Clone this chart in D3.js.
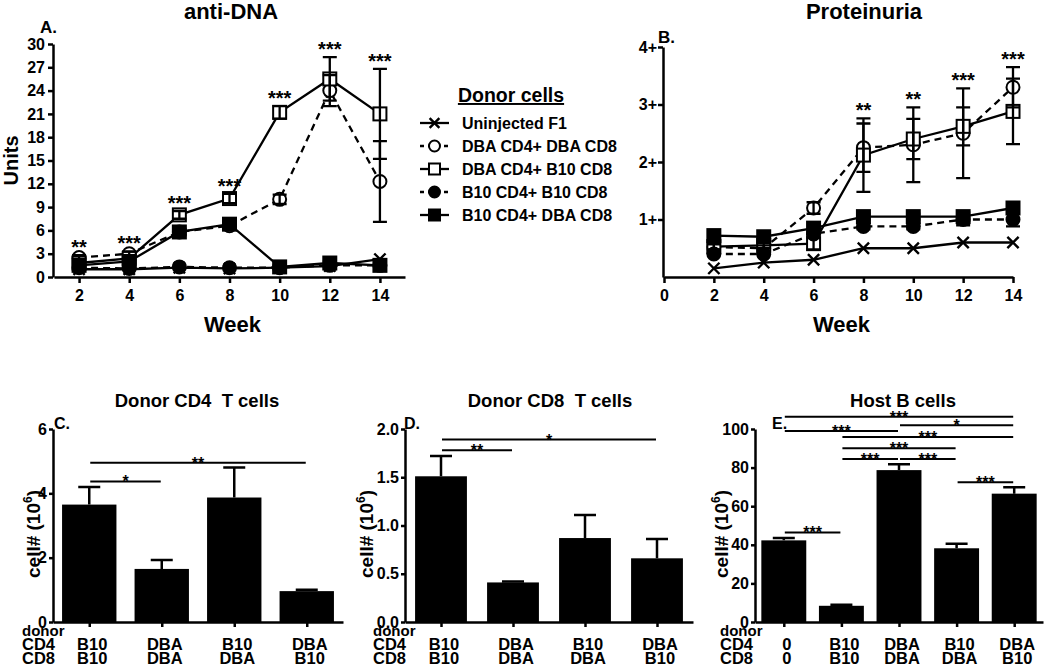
<!DOCTYPE html>
<html>
<head>
<meta charset="utf-8">
<script src="https://cdn.jsdelivr.net/npm/d3@7"></script>
<style>
  body { margin: 0; background: #fff; }
  svg { display: block; }
  text { white-space: pre; }
</style>
</head>
<body>
<div id="chart"></div>
<script>
// ---- data ----
const weeks = [2, 4, 6, 8, 10, 12, 14];
const groups = ["Uninjected F1", "DBA CD4+ DBA CD8", "DBA CD4+ B10 CD8", "B10 CD4+ B10 CD8", "B10 CD4+ DBA CD8"];

// A. anti-DNA (units)
const dnaF1 = [1.0, 1.0, 1.2, 1.1, 1.2, 1.4, 2.3];
const dnaDD = [2.5, 3.0, 5.8, 6.6, 10.0, 24.0, 12.3];
const dnaDB = [1.8, 2.4, 8.0, 10.1, 21.2, 25.5, 21.0];
const dnaBB = [1.2, 1.1, 1.3, 1.2, 1.2, 1.5, 1.5];
const dnaBD = [1.5, 2.0, 5.8, 6.8, 1.3, 1.8, 1.5];
const dnaErrF1 = [0, 0, 0, 0, 0, 0, 0];
const dnaErrDD = [0.3, 0.3, 0.4, 0.5, 0.6, 2.0, 5.2];
const dnaErrDB = [0.2, 0.3, 0.5, 0.6, 0.8, 2.8, 5.8];
const dnaErrBB = [0, 0, 0, 0, 0, 0, 0];
const dnaErrBD = [0.2, 0.2, 0.4, 0.5, 0.2, 0.2, 0.2];
const dnaStars = ["**", "***", "***", "***", "***", "***", "***"];

// B. proteinuria (score)
const protF1 = [0.15, 0.25, 0.3, 0.5, 0.5, 0.6, 0.6];
const protDD = [0.52, 0.5, 1.2, 2.25, 2.3, 2.5, 3.3];
const protDB = [0.53, 0.55, 0.58, 2.12, 2.4, 2.62, 2.88];
const protBB = [0.4, 0.4, 0.75, 0.88, 0.88, 1.0, 1.0];
const protBD = [0.72, 0.7, 0.85, 1.05, 1.05, 1.05, 1.2];
const protErrF1 = [0, 0, 0, 0, 0, 0, 0];
const protErrDD = [0.05, 0.05, 0.1, 0.42, 0.65, 0.78, 0.35];
const protErrDB = [0.05, 0.05, 0.1, 0.64, 0.35, 0.33, 0.57];
const protErrBB = [0, 0, 0, 0.05, 0.05, 0.1, 0.12];
const protErrBD = [0, 0, 0, 0.05, 0.05, 0.08, 0.1];
const protStars = ["", "", "", "**", "**", "***", "***"];
const protTicks = [1, 2, 3, 4];

// C-E. cell numbers (10^6)
const tCD4 = ["B10", "DBA", "B10", "DBA"];
const tCD8 = ["B10", "DBA", "DBA", "B10"];
const cd4Cells = [3.65, 1.65, 3.87, 0.96];
const cd4Err = [0.55, 0.28, 0.93, 0.04];
const cd4Sig = [[0, 1, 4.37, "*"], [0, 3, 4.95, "**"]];
const cd8Cells = [1.51, 0.41, 0.87, 0.66];
const cd8Err = [0.21, 0.01, 0.24, 0.2];
const cd8Sig = [[0, 1, 1.78, "**"], [0, 3, 1.89, "*"]];
const hostCD4 = ["0", "B10", "DBA", "B10", "DBA"];
const hostCD8 = ["0", "B10", "DBA", "DBA", "B10"];
const bCells = [42.3, 8.4, 78.7, 38.2, 66.5];
const bErr = [1.2, 0.6, 3.0, 2.3, 3.3];
const bSig = [
  [0, 4, 106.3, "***"], [2, 4, 102, "*"], [0, 2, 99, "***"], [1, 4, 95.8, "***"],
  [1, 3, 90, "***"], [1, 2, 84.4, "***"], [2, 3, 84.4, "***"], [3, 4, 72.4, "***"],
  [0, 1, 46.4, "***"]
];

// ---- styles ----
const FONT = '"Liberation Sans", Arial, sans-serif';
const markers = ["x", "openCircle", "openSquare", "circle", "square"];
const dashes = [null, "7,5", null, "7,5", null];

const svg = d3.select("#chart")
  .append("svg")
    .attr("width", 1050)
    .attr("height", 667)
    .attr("font-family", FONT)
    .attr("font-weight", "bold");

function styleAxis(g, size) {
  g.attr("font-family", FONT).attr("font-size", size).attr("font-weight", "bold");
  g.selectAll("path, line").attr("stroke", "#000").attr("stroke-width", 2.5);
  g.selectAll("text").attr("fill", "#000");
}

function drawMarker(g, type, cx, cy, s) {
  const h = s / 2;
  if (type === "x") {
    const k = h * 0.75;
    g.append("path")
      .attr("d", `M${cx - k},${cy - k}L${cx + k},${cy + k}M${cx - k},${cy + k}L${cx + k},${cy - k}`)
      .attr("stroke", "#000").attr("stroke-width", 2.4).attr("fill", "none");
  } else if (type === "openCircle" || type === "circle") {
    g.append("circle")
      .attr("cx", cx).attr("cy", cy).attr("r", h - 1)
      .attr("fill", type === "circle" ? "#000" : "#fff")
      .attr("stroke", "#000").attr("stroke-width", 2);
  } else {
    g.append("rect")
      .attr("x", cx - h + 1).attr("y", cy - h + 1)
      .attr("width", s - 2).attr("height", s - 2)
      .attr("fill", type === "square" ? "#000" : "#fff")
      .attr("stroke", "#000").attr("stroke-width", 2);
  }
}

function lineChart(o) {
  const g = svg.append("g");
  const x = o.x, y = o.y;

  g.append("g")
    .attr("transform", `translate(${x.range()[0] - 1},0)`)
    .call(d3.axisLeft(y).tickValues(o.yTicks).tickFormat(o.yFormat).tickSize(5).tickPadding(o.yPad).tickSizeOuter(0))
    .call(ax => styleAxis(ax, 16));

  g.append("g")
    .attr("transform", `translate(0,${y.range()[0]})`)
    .call(d3.axisBottom(x).tickValues(o.xTicks).tickSize(6).tickPadding(7).tickSizeOuter(0))
    .call(ax => styleAxis(ax, 16));

  const line = d3.line()
    .x((d, i) => x(weeks[i]))
    .y(d => y(d));

  o.series.forEach((s, k) => {
    g.append("path")
      .datum(s)
      .attr("d", line)
      .attr("fill", "none")
      .attr("stroke", "#000")
      .attr("stroke-width", 2.3)
      .attr("stroke-dasharray", dashes[k]);
  });

  o.series.forEach((s, k) => {
    s.forEach((v, i) => drawMarker(g, markers[k], x(weeks[i]), y(v), 15));
  });

  // error bars on top, as in the original
  o.series.forEach((s, k) => {
    s.forEach((v, i) => {
      const e = o.errs[k][i];
      if (!e) return;
      const cx = x(weeks[i]);
      const path = d3.path();
      path.moveTo(cx, y(v - e)); path.lineTo(cx, y(v + e));
      path.moveTo(cx - 7, y(v + e)); path.lineTo(cx + 7, y(v + e));
      path.moveTo(cx - 7, y(v - e)); path.lineTo(cx + 7, y(v - e));
      g.append("path").attr("d", path.toString())
        .attr("stroke", "#000").attr("stroke-width", 2.3).attr("fill", "none");
    });
  });

  o.stars.forEach((lab, i) => {
    if (!lab) return;
    const top = d3.max(o.series, (s, k) => s[i] + o.errs[k][i]);
    g.append("text")
      .attr("x", x(weeks[i]))
      .attr("y", y(top) - 1)
      .attr("text-anchor", "middle")
      .attr("font-size", 20)
      .text(lab);
  });

  g.append("text")
    .attr("x", o.titleX).attr("y", 19)
    .attr("text-anchor", "middle").attr("font-size", 22)
    .text(o.title);

  g.append("text")
    .attr("x", o.letterX).attr("y", o.letterY)
    .attr("font-size", 17)
    .text(o.letter);

  g.append("text")
    .attr("x", (x.range()[0] + x.range()[1]) / 2 + 3).attr("y", 332)
    .attr("text-anchor", "middle").attr("font-size", 22)
    .text("Week");

  if (o.yLabel) {
    g.append("text")
      .attr("transform", `translate(18,${(y.range()[0] + y.range()[1]) / 2})rotate(-90)`)
      .attr("text-anchor", "middle").attr("font-size", 20)
      .text(o.yLabel);
  }
}

lineChart({
  x: d3.scaleLinear().domain([1, 15]).range([54, 405]),
  y: d3.scaleLinear().domain([0, 30]).range([277, 44]),
  yTicks: d3.range(0, 31, 3), yFormat: d => d, yPad: 3,
  xTicks: weeks,
  series: [dnaF1, dnaDD, dnaDB, dnaBB, dnaBD],
  errs: [dnaErrF1, dnaErrDD, dnaErrDB, dnaErrBB, dnaErrBD],
  stars: dnaStars,
  title: "anti-DNA", titleX: 231,
  letter: "A.", letterX: 40, letterY: 33,
  yLabel: "Units"
});

lineChart({
  x: d3.scaleLinear().domain([0, 14]).range([664, 1013]),
  y: d3.scaleLinear().domain([0, 4]).range([277, 47]),
  yTicks: protTicks, yFormat: d => d + "+", yPad: 1,
  xTicks: d3.range(0, 15, 2),
  series: [protF1, protDD, protDB, protBB, protBD],
  errs: [protErrF1, protErrDD, protErrDB, protErrBB, protErrBD],
  stars: protStars,
  title: "Proteinuria", titleX: 864,
  letter: "B.", letterX: 658, letterY: 43
});

// legend
const leg = svg.append("g");
leg.append("text")
  .attr("x", 511).attr("y", 102)
  .attr("text-anchor", "middle").attr("font-size", 19.5)
  .attr("text-decoration", "underline")
  .text("Donor cells");
groups.forEach((name, k) => {
  const ly = 123 + k * 23;
  leg.append("line")
    .attr("x1", 420).attr("x2", 449).attr("y1", ly).attr("y2", ly)
    .attr("stroke", "#000").attr("stroke-width", 2.3)
    .attr("stroke-dasharray", dashes[k] ? "4,4" : null);
  drawMarker(leg, markers[k], 434.5, ly, 13);
  leg.append("text")
    .attr("x", 462).attr("y", ly + 5.5)
    .attr("font-size", 16)
    .text(name);
});

function barChart(o) {
  const g = svg.append("g");
  const x = d3.scaleBand().domain(d3.range(o.values.length)).range(o.xRange).paddingInner(o.pad).paddingOuter(o.pad / 2);
  const y = d3.scaleLinear().domain([0, o.yMax]).range([622, 429]);
  const cx = i => x(i) + x.bandwidth() / 2;

  g.selectAll(".bar")
    .data(o.values)
    .enter()
    .append("rect")
      .attr("class", "bar")
      .attr("x", (d, i) => x(i))
      .attr("y", d => y(d))
      .attr("width", x.bandwidth())
      .attr("height", d => y(0) - y(d))
      .attr("fill", "#000");

  o.values.forEach((v, i) => {
    const p = d3.path();
    p.moveTo(cx(i), y(v)); p.lineTo(cx(i), y(v + o.errs[i]));
    p.moveTo(cx(i) - 11, y(v + o.errs[i])); p.lineTo(cx(i) + 11, y(v + o.errs[i]));
    g.append("path").attr("d", p.toString())
      .attr("stroke", "#000").attr("stroke-width", 2.5).attr("fill", "none");
  });

  g.append("g")
    .attr("transform", `translate(${o.xRange[0]},0)`)
    .call(d3.axisLeft(y).tickValues(o.yTicks).tickFormat(o.yFormat).tickSize(4).tickPadding(2).tickSizeOuter(0))
    .call(ax => styleAxis(ax, 16));

  g.append("g")
    .attr("transform", `translate(0,${y(0)})`)
    .call(d3.axisBottom(d3.scaleLinear().domain(o.xRange).range(o.xRange))
      .tickValues(o.values.map((d, i) => cx(i))).tickFormat("").tickSize(5).tickSizeOuter(0))
    .call(ax => styleAxis(ax, 16));

  o.sig.forEach(([a, b, yv, lab]) => {
    g.append("line")
      .attr("x1", cx(a) + 1).attr("x2", cx(b) - 1)
      .attr("y1", y(yv)).attr("y2", y(yv))
      .attr("stroke", "#000").attr("stroke-width", 2);
    g.append("text")
      .attr("x", (cx(a) + cx(b)) / 2).attr("y", y(yv) + 6)
      .attr("text-anchor", "middle").attr("font-size", 16)
      .text(lab);
  });

  g.append("text")
    .attr("x", o.titleX).attr("y", 407)
    .attr("text-anchor", "middle").attr("font-size", 18.5)
    .text(o.title);

  g.append("text")
    .attr("x", o.xRange[0] + o.letterDx).attr("y", 429)
    .attr("font-size", 16)
    .text(o.letter);

  g.append("text")
    .attr("transform", `translate(${o.labelX},534)rotate(-90)`)
    .attr("text-anchor", "middle").attr("font-size", 19)
    .call(t => {
      t.append("tspan").text("cell# (10");
      t.append("tspan").attr("font-size", 12).attr("dy", -8).text("6");
      t.append("tspan").attr("dy", 8).text(")");
    });

  // group labels under the axis
  const rows = [["donor", null, 636, 15], ["CD4", o.cd4, 650, 16.5], ["CD8", o.cd8, 664, 16.5]];
  rows.forEach(([head, labs, by, fs]) => {
    g.append("text")
      .attr("x", o.rowX).attr("y", by)
      .attr("font-size", fs)
      .text(head);
    if (!labs) return;
    labs.forEach((lab, i) => {
      g.append("text")
        .attr("x", cx(i) + 3).attr("y", by)
        .attr("text-anchor", "middle").attr("font-size", 16.5)
        .text(lab);
    });
  });
}

barChart({
  values: cd4Cells, errs: cd4Err, sig: cd4Sig,
  xRange: [53, 343], pad: 0.25, yMax: 6, yTicks: [0, 2, 4, 6], yFormat: d => d,
  title: "Donor CD4  T cells", titleX: 197,
  letter: "C.", letterDx: 1, labelX: 40,
  cd4: tCD4, cd8: tCD8, rowX: 22
});

barChart({
  values: cd8Cells, errs: cd8Err, sig: cd8Sig,
  xRange: [405, 693], pad: 0.28, yMax: 2, yTicks: [0, 0.5, 1, 1.5, 2], yFormat: d3.format(".1f"),
  title: "Donor CD8  T cells", titleX: 550,
  letter: "D.", letterDx: -1, labelX: 373,
  cd4: tCD4, cd8: tCD8, rowX: 373
});

barChart({
  values: bCells, errs: bErr, sig: bSig,
  xRange: [755, 1043], pad: 0.22, yMax: 100, yTicks: [0, 20, 40, 60, 80, 100], yFormat: d => d,
  title: "Host B cells", titleX: 903,
  letter: "E.", letterDx: 17, labelX: 728,
  cd4: hostCD4, cd8: hostCD8, rowX: 720
});
</script>
</body>
</html>
